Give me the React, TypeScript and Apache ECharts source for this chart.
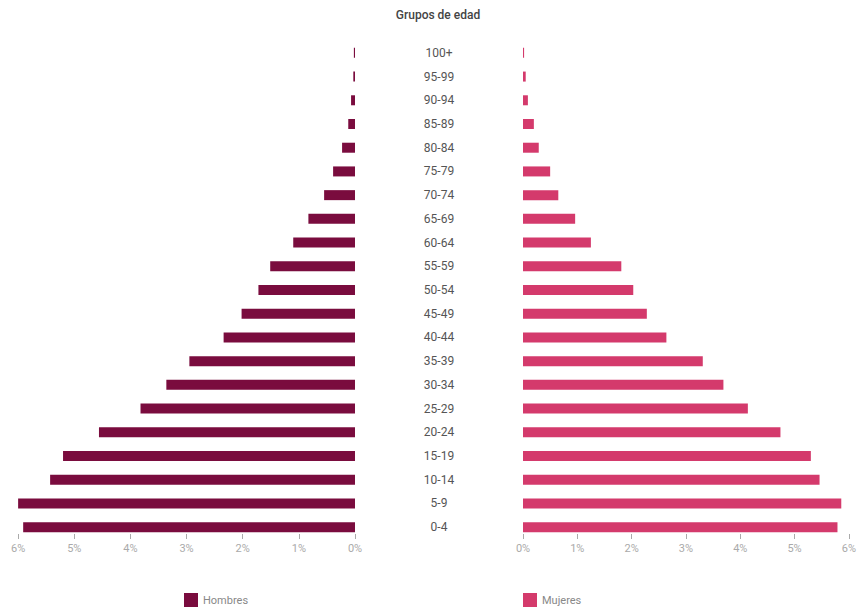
import React, { useEffect, useRef } from "react";
import * as echarts from "echarts";

const categories = ["0-4","5-9","10-14","15-19","20-24","25-29","30-34","35-39","40-44","45-49","50-54","55-59","60-64","65-69","70-74","75-79","80-84","85-89","90-94","95-99","100+"];
const hombres = [5.91, 6.0, 5.43, 5.2, 4.56, 3.82, 3.36, 2.95, 2.34, 2.02, 1.72, 1.51, 1.1, 0.83, 0.55, 0.39, 0.23, 0.12, 0.07, 0.03, 0.02];
const mujeres = [5.79, 5.86, 5.46, 5.3, 4.74, 4.14, 3.69, 3.31, 2.64, 2.28, 2.03, 1.81, 1.25, 0.96, 0.65, 0.5, 0.29, 0.2, 0.09, 0.05, 0.02];
const HOMBRES_COLOR = "#7a0c3e";
const MUJERES_COLOR = "#d43a6c";

export default function App() {
  const ref = useRef<HTMLDivElement>(null);
  useEffect(() => {
    if (!ref.current) return;
    const chart = echarts.init(ref.current, null, { renderer: "svg" });
    const axisCommon = {
      type: "value",
      min: 0,
      max: 6,
      interval: 1,
      axisLine: { show: false },
      axisTick: { show: true, inside: true, length: 5, lineStyle: { color: "#aaa" } },
      splitLine: { show: false },
      axisLabel: { formatter: "{value}%", color: "#aaa", fontSize: 11, margin: 4, fontFamily: "Roboto" },
    };
    chart.setOption({
      animation: false,
      title: {
        text: "Grupos de edad",
        left: 430,
        textAlign: "center",
        top: 1,
        padding: 0,
        textStyle: { fontSize: 12, fontWeight: 500, color: "#444", fontFamily: "Roboto" },
      },
      legend: [
        {
          data: ["Hombres"],
          left: 176,
          top: 585,
          itemWidth: 14,
          itemHeight: 14,
          padding: 0,
          icon: "rect",
          textStyle: { color: "#888", fontSize: 11, fontFamily: "Roboto" },
        },
        {
          data: ["Mujeres"],
          left: 515,
          top: 585,
          itemWidth: 14,
          itemHeight: 14,
          padding: 0,
          icon: "rect",
          textStyle: { color: "#888", fontSize: 11, fontFamily: "Roboto" },
        },
      ],
      grid: [
        { left: 9, top: 33, width: 338, height: 498 },
        { left: 515, top: 33, width: 332, height: 498 },
      ],
      xAxis: [
        { ...axisCommon, gridIndex: 0, inverse: true },
        { ...axisCommon, gridIndex: 1 },
      ],
      yAxis: [
        {
          type: "category",
          gridIndex: 0,
          data: categories,
          position: "right",
          axisLine: { show: false },
          axisTick: { show: false },
          axisLabel: { margin: 84, align: "center", color: "#555", fontSize: 12, fontFamily: "Roboto" },
        },
        {
          type: "category",
          gridIndex: 1,
          data: categories,
          axisLine: { show: false },
          axisTick: { show: false },
          axisLabel: { show: false },
        },
      ],
      series: [
        {
          name: "Hombres",
          type: "bar",
          xAxisIndex: 0,
          yAxisIndex: 0,
          data: hombres,
          barWidth: 10,
          itemStyle: { color: HOMBRES_COLOR },
        },
        {
          name: "Mujeres",
          type: "bar",
          xAxisIndex: 1,
          yAxisIndex: 1,
          data: mujeres,
          barWidth: 10,
          itemStyle: { color: MUJERES_COLOR },
        },
      ],
    });
    return () => chart.dispose();
  }, []);
  return <div ref={ref} style={{ width: 851, height: 604 }} />;
}
